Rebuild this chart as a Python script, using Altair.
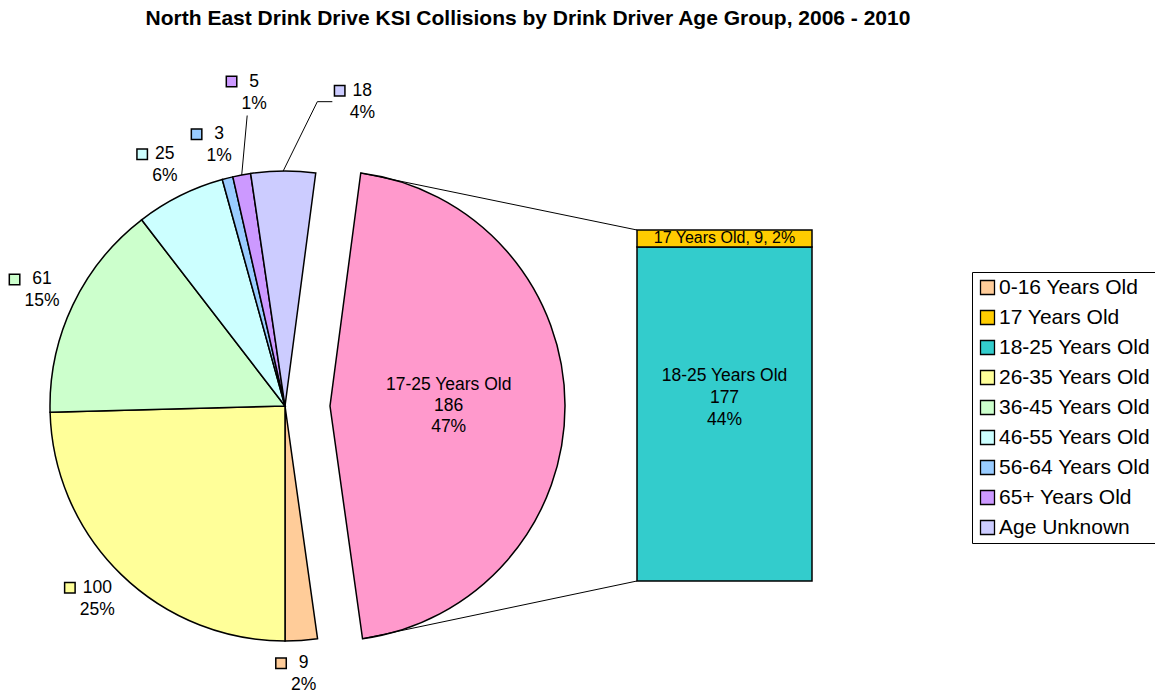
import math
import altair as alt
import pandas as pd

# ---------------- data ----------------
pie_categories = ["0-16 Years Old", "26-35 Years Old", "36-45 Years Old", "46-55 Years Old",
                  "56-64 Years Old", "65+ Years Old", "Age Unknown", "17-25 Years Old"]
pie_values = [9, 100, 61, 25, 3, 5, 18, 186]
pie_percent = ["2%", "25%", "15%", "6%", "1%", "1%", "4%", "47%"]

bar_categories = ["18-25 Years Old", "17 Years Old"]
bar_values = [177, 9]
bar_percent = ["44%", "2%"]

legend_labels = ["0-16 Years Old", "17 Years Old", "18-25 Years Old", "26-35 Years Old",
                 "36-45 Years Old", "46-55 Years Old", "56-64 Years Old", "65+ Years Old",
                 "Age Unknown"]
colour_domain = legend_labels + ["17-25 Years Old"]
colour_range = ["#FFCC99", "#FFCC00", "#33CCCC", "#FFFF99", "#CCFFCC", "#CCFFFF",
                "#99CCFF", "#CC99FF", "#CCCCFF", "#FF99CC"]

title_text = "North East Drink Drive KSI Collisions by Drink Driver Age Group, 2006 - 2010"
exploded = "17-25 Years Old"

# ---------------- layout / style ----------------
W, H = 1155, 693
CX, CY = 285, 406
R = 235
EXPLODE = 45
BAR_X0, BAR_X1 = 637, 812
BAR_TOP, BAR_BOTTOM = 230, 581
LABEL_R = 269
FONT = "Liberation Sans"
LBL_SIZE = 17.5
# labels Excel pushed away from their slice: (extra angle in degrees, radius)
LABEL_PUSH = {"65+ Years Old": (5.0, 315), "Age Unknown": (14.7, 314)}
# leader line end offset from label centre and elbow length
LEADER = {"65+ Years Old": (-7, 23, 0), "Age Unknown": (-30, 0, -15)}

TAU = 2 * math.pi
total = sum(pie_values)
a0 = math.pi - pie_values[0] / total * TAU   # first slice ends at 6 o'clock

# ---------------- tables ----------------
pie_df = pd.DataFrame({"category": pie_categories, "value": pie_values, "pct": pie_percent})
pie_df["end"] = pie_df["value"].cumsum()
pie_df["start"] = pie_df["end"] - pie_df["value"]
pie_df["mid"] = (pie_df["start"] + pie_df["end"]) / 2
pie_df["inner"] = pie_df["category"] + "\n" + pie_df["value"].astype(str) + "\n" + pie_df["pct"]

bar_df = pd.DataFrame({"category": bar_categories, "value": bar_values, "pct": bar_percent})
bar_df["b1"] = bar_df["value"].cumsum()
bar_df["b0"] = bar_df["b1"] - bar_df["value"]
bar_df["bmid"] = (bar_df["b0"] + bar_df["b1"]) / 2
bar_df["one"] = bar_df["category"] + ", " + bar_df["value"].astype(str) + ", " + bar_df["pct"]
bar_df["multi"] = bar_df["category"] + "\n" + bar_df["value"].astype(str) + "\n" + bar_df["pct"]


def by_cat(d, idx, default):
    e = str(default)
    for k, v in d.items():
        e = f"(datum.category === '{k}' ? {v[idx]} : {e})"
    return e


def ang(field):
    return f"({a0} + datum.{field} / {total} * {TAU})"


# ---------------- scales ----------------
theta_scale = alt.Scale(domain=[0, total], range=[a0, a0 + TAU])
colour_scale = alt.Scale(domain=colour_domain, range=colour_range)
px = alt.Scale(domain=[0, W], range=[0, W], nice=False, zero=False)
py = alt.Scale(domain=[0, H], range=[0, H], nice=False, zero=False)
bar_y = alt.Scale(domain=[0, sum(bar_values)], range=[BAR_BOTTOM, BAR_TOP], nice=False, zero=False)

legend = alt.Legend(
    values=legend_labels, title=None, orient="none", legendX=972, legendY=272,
    symbolType="square", symbolSize=196, symbolStrokeColor="black", symbolStrokeWidth=1.3,
    symbolOpacity=1, labelFont=FONT, labelFontSize=21, labelColor="black", labelLimit=400,
    strokeColor="black", fillColor="white", padding=5, rowPadding=8, labelOffset=1,
)
colour = alt.Color("category:N", scale=colour_scale, legend=legend)

# ---------------- layers ----------------
base = alt.Chart(pie_df)

pie = base.transform_filter(alt.datum.category != exploded).mark_arc(
    radius=R, stroke="black", strokeWidth=1.5
).encode(
    x=alt.value(CX), y=alt.value(CY),
    theta=alt.Theta("start:Q", scale=theta_scale, stack=False),
    theta2="end:Q",
    color=colour,
)

pie_out = base.transform_filter(alt.datum.category == exploded).mark_arc(
    radius=R, stroke="black", strokeWidth=1.5
).encode(
    x=alt.value(CX + EXPLODE), y=alt.value(CY),
    theta=alt.Theta("start:Q", scale=theta_scale, stack=False),
    theta2="end:Q",
    color=colour,
)

bar = alt.Chart(bar_df).mark_rect(stroke="black", strokeWidth=1.5).encode(
    x=alt.value(BAR_X0), x2=alt.value(BAR_X1),
    y=alt.Y("b0:Q", scale=bar_y, axis=None), y2="b1:Q",
    color=colour,
)

bar_small = alt.Chart(bar_df).transform_filter(alt.datum.category == "17 Years Old").mark_text(
    font=FONT, fontSize=16, color="black", baseline="middle", align="center"
).encode(
    x=alt.value((BAR_X0 + BAR_X1) / 2),
    y=alt.Y("bmid:Q", scale=bar_y, axis=None),
    text="one:N",
)

bar_big = alt.Chart(bar_df).transform_filter(alt.datum.category == "18-25 Years Old").mark_text(
    font=FONT, fontSize=LBL_SIZE, color="black", baseline="middle", align="center",
    lineBreak="\n", lineHeight=22, dy=-38,
).encode(
    x=alt.value((BAR_X0 + BAR_X1) / 2),
    y=alt.Y("bmid:Q", scale=bar_y, axis=None),
    text="multi:N",
)

# connectors from the exploded slice to the bar
conn_base = base.transform_filter(alt.datum.category == exploded).transform_calculate(
    tx=f"{CX + EXPLODE} + {R} * sin({ang('start')})",
    ty=f"{CY} - {R} * cos({ang('start')})",
    bx=f"{CX + EXPLODE} + {R} * sin({ang('end')})",
    by=f"{CY} - {R} * cos({ang('end')})",
    bar_left=str(BAR_X0), bar_top=str(BAR_TOP), bar_bottom=str(BAR_BOTTOM),
)
conn_top = conn_base.mark_rule(color="black", strokeWidth=1).encode(
    x=alt.X("tx:Q", scale=px, axis=None), y=alt.Y("ty:Q", scale=py, axis=None),
    x2="bar_left:Q", y2="bar_top:Q",
)
conn_bot = conn_base.mark_rule(color="black", strokeWidth=1).encode(
    x=alt.X("bx:Q", scale=px, axis=None), y=alt.Y("by:Q", scale=py, axis=None),
    x2="bar_left:Q", y2="bar_bottom:Q",
)

inner = base.transform_filter(alt.datum.category == exploded).transform_calculate(
    ix=f"{CX + EXPLODE} + {R * 0.505} * sin({ang('mid')})",
    iy=f"{CY} - {R * 0.505} * cos({ang('mid')})",
).mark_text(
    font=FONT, fontSize=LBL_SIZE, color="black", baseline="middle", align="center",
    lineBreak="\n", lineHeight=21, dy=-21,
).encode(
    x=alt.X("ix:Q", scale=px, axis=None), y=alt.Y("iy:Q", scale=py, axis=None),
    text="inner:N",
)

# outside labels of the pie
lab = base.transform_filter(alt.datum.category != exploded).transform_calculate(
    la=f"{ang('mid')} + {by_cat(LABEL_PUSH, 0, 0)} * PI / 180",
    lr=by_cat(LABEL_PUSH, 1, LABEL_R),
).transform_calculate(
    lx=f"{CX} + datum.lr * sin(datum.la)",
    ly=f"{CY} - datum.lr * cos(datum.la)",
).transform_calculate(
    mx=f"datum.lx - ((length(datum.pct) - 1) * {LBL_SIZE * 0.556} + {LBL_SIZE * 0.889}) / 2 - 10",
    my="datum.ly - 11",
    ex=f"{CX} + {R} * sin({ang('mid')})",
    ey=f"{CY} - {R} * cos({ang('mid')})",
    endx=f"datum.lx + {by_cat(LEADER, 0, 0)}",
    endy=f"datum.ly + {by_cat(LEADER, 1, 0)}",
).transform_calculate(
    elbx=f"datum.endx + {by_cat(LEADER, 2, 0)}",
)

lab_val = lab.mark_text(font=FONT, fontSize=LBL_SIZE, color="black", baseline="middle",
                        align="center", dy=-11).encode(
    x=alt.X("lx:Q", scale=px, axis=None), y=alt.Y("ly:Q", scale=py, axis=None),
    text="value:N",
)
lab_pct = lab.mark_text(font=FONT, fontSize=LBL_SIZE, color="black", baseline="middle",
                        align="center", dy=11).encode(
    x=alt.X("lx:Q", scale=px, axis=None), y=alt.Y("ly:Q", scale=py, axis=None),
    text="pct:N",
)
lab_key = lab.mark_square(size=110, stroke="black", strokeWidth=1.5, opacity=1).encode(
    x=alt.X("mx:Q", scale=px, axis=None), y=alt.Y("my:Q", scale=py, axis=None),
    color=colour,
)

leaders = lab.transform_filter(
    alt.FieldOneOfPredicate(field="category", oneOf=list(LEADER.keys()))
)
lead1 = leaders.mark_rule(color="black", strokeWidth=1).encode(
    x=alt.X("ex:Q", scale=px, axis=None), y=alt.Y("ey:Q", scale=py, axis=None),
    x2="elbx:Q", y2="endy:Q",
)
lead2 = leaders.mark_rule(color="black", strokeWidth=1).encode(
    x=alt.X("elbx:Q", scale=px, axis=None), y=alt.Y("endy:Q", scale=py, axis=None),
    x2="endx:Q", y2="endy:Q",
)

title = alt.Chart(pd.DataFrame({"t": [title_text]})).mark_text(
    font=FONT, fontSize=21, fontWeight="bold", color="black", baseline="middle", align="center"
).encode(x=alt.value(528), y=alt.value(19), text="t:N")

chart = alt.layer(
    pie, pie_out, bar, conn_top, conn_bot, lead1, lead2, bar_small, bar_big, inner,
    lab_key, lab_val, lab_pct, title,
).resolve_scale(x="independent", y="independent").properties(
    width=W, height=H, padding=0, autosize=alt.AutoSizeParams(type="none"),
    background="white",
).configure_view(strokeWidth=0)

chart.save("out.html", embed_options={"renderer": "svg", "actions": False})
